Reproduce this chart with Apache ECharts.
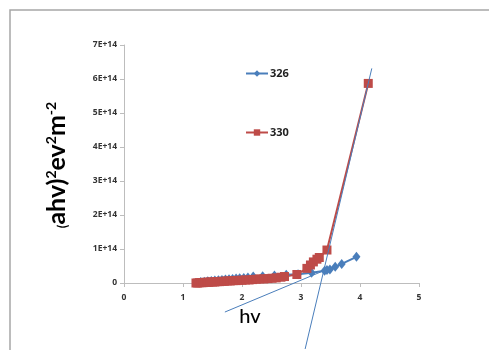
<!DOCTYPE html>
<html><head><meta charset="utf-8">
<script src="https://cdn.jsdelivr.net/npm/echarts@6/dist/echarts.min.js"></script>
<style>html,body{margin:0;padding:0;background:#fff}#c{width:489px;height:350px}</style>
</head><body><div id="c"></div>
<script>
// Series 326 (blue)
const x326 = [1.30,1.36,1.42,1.48,1.54,1.60,1.66,1.72,1.78,1.84,1.90,1.96,2.03,2.10,2.19,2.35,2.55,2.75,2.95,3.18,3.40,3.44,3.49,3.58,3.69,3.94];
const y326 = [0.03,0.04,0.05,0.06,0.07,0.08,0.09,0.10,0.11,0.12,0.13,0.14,0.15,0.16,0.19,0.20,0.22,0.24,0.26,0.30,0.36,0.38,0.40,0.48,0.56,0.77];
// Series 330 (red)
const x330 = [1.22,1.25,1.28,1.31,1.34,1.37,1.40,1.43,1.46,1.50,1.54,1.58,1.62,1.66,1.70,1.75,1.80,1.85,1.90,1.95,2.00,2.06,2.12,2.18,2.24,2.30,2.37,2.44,2.51,2.58,2.66,2.72,2.93,3.10,3.16,3.21,3.27,3.31,3.44,4.14];
const y330 = [0.00,0.00,0.01,0.01,0.01,0.02,0.02,0.02,0.03,0.03,0.03,0.04,0.04,0.05,0.05,0.06,0.06,0.07,0.07,0.08,0.08,0.09,0.09,0.10,0.11,0.12,0.12,0.13,0.14,0.15,0.17,0.19,0.25,0.43,0.53,0.62,0.70,0.75,0.97,5.87];
// Tangent lines (x, y in units of 1E14)
const tan1X = [1.71, 3.44];
const tan1Y = [-0.88, 0.38];
const tan2X = [3.07, 4.20];
const tan2Y = [-1.97, 6.31];
const SCALE = 1e14;
const seriesNames = ['326', '330'];
const xTicks = {min: 0, max: 5, interval: 1};
const yTicks = {min: 0, max: 7, interval: 1};

const pairs = (xs, ys) => xs.map((x, i) => [x, ys[i] * SCALE]);
const FONT = '"Open Sans", Lato, sans-serif';

const chart = echarts.init(document.getElementById('c'));
chart.setOption({
  animation: false,
  backgroundColor: '#fff',
  grid: [
    {left: 124, right: 70, top: 45, bottom: 67},
    {left: 124, right: 70, top: 45, height: 306}
  ],
  xAxis: [
    {gridIndex: 0, type: 'value', min: xTicks.min, max: xTicks.max, interval: xTicks.interval,
     splitLine: {show: false},
     axisLine: {lineStyle: {color: '#bdbdbd', width: 1}},
     axisTick: {show: true, length: 4, lineStyle: {color: '#bdbdbd'}},
     axisLabel: {color: '#333', fontSize: 8.5, fontWeight: 'bold', fontFamily: FONT, margin: 10}},
    {gridIndex: 1, type: 'value', min: xTicks.min, max: xTicks.max, show: false}
  ],
  yAxis: [
    {gridIndex: 0, type: 'value', min: yTicks.min * SCALE, max: yTicks.max * SCALE, interval: yTicks.interval * SCALE,
     splitLine: {show: false},
     axisLine: {show: true, lineStyle: {color: '#bdbdbd', width: 1}},
     axisTick: {show: true, length: 4, lineStyle: {color: '#bdbdbd'}},
     axisLabel: {color: '#333', fontSize: 8.5, fontWeight: 'bold', fontFamily: FONT, margin: 7,
       formatter: v => v === 0 ? '0' : Math.round(v / SCALE) + 'E+14'}},
    {gridIndex: 1, type: 'value', min: -2 * SCALE, max: 7 * SCALE, show: false}
  ],
  legend: {
    orient: 'vertical', left: 240, top: 63, itemGap: 48, itemWidth: 22, itemHeight: 8,
    textStyle: {color: '#222', fontSize: 11, fontWeight: 'bold', fontFamily: FONT, padding: [0,0,0,-3]},
    data: seriesNames
  },
  series: [
    {name: seriesNames[0], type: 'line', xAxisIndex: 0, yAxisIndex: 0, data: pairs(x326, y326),
     symbol: 'diamond', symbolSize: [8, 10], color: '#4a7ebb',
     lineStyle: {width: 2, color: '#4a7ebb'}, itemStyle: {color: '#4a7ebb'}},
    {name: seriesNames[1], type: 'line', xAxisIndex: 0, yAxisIndex: 0, data: pairs(x330, y330),
     symbol: 'rect', symbolSize: 9, color: '#be4b48',
     lineStyle: {width: 2, color: '#be4b48'}, itemStyle: {color: '#be4b48'}},
    {type: 'line', xAxisIndex: 1, yAxisIndex: 1, data: pairs(tan1X, tan1Y), symbol: 'none',
     lineStyle: {width: 1, color: '#4a7ebb'}, silent: true, z: 5},
    {type: 'line', xAxisIndex: 1, yAxisIndex: 1, data: pairs(tan2X, tan2Y), symbol: 'none',
     lineStyle: {width: 1, color: '#4a7ebb'}, silent: true, z: 5}
  ],
  graphic: [
    {type: 'rect', shape: {x: 10, y: 10, width: 700, height: 700}, silent: true,
     style: {fill: 'none', stroke: '#a6a6a6', lineWidth: 1.5}},
    {type: 'text', x: 250, y: 317, style: {text: 'hv', font: '500 20px Lato, sans-serif', fill: '#000', align: 'center', verticalAlign: 'middle'}},
    {type: 'text', x: 57, y: 165, rotation: Math.PI / 2,
     style: {
       text: '{p|(}{b|ahv)}{s|2}{b|ev}{s|2}{b|m}{s|-2}',
       align: 'center', verticalAlign: 'middle', fill: '#000',
       rich: {
         p: {fontSize: 13, fontFamily: 'Lato, sans-serif', fontWeight: 'bold', verticalAlign: 'bottom', fill: '#000'},
         b: {fontSize: 25, fontFamily: 'Lato, sans-serif', fontWeight: 'bold', fill: '#000', verticalAlign: 'bottom'},
         s: {fontSize: 14, fontFamily: 'Lato, sans-serif', fontWeight: 'bold', fill: '#000', verticalAlign: 'top'}
       }
     }}
  ]
});
</script></body></html>
